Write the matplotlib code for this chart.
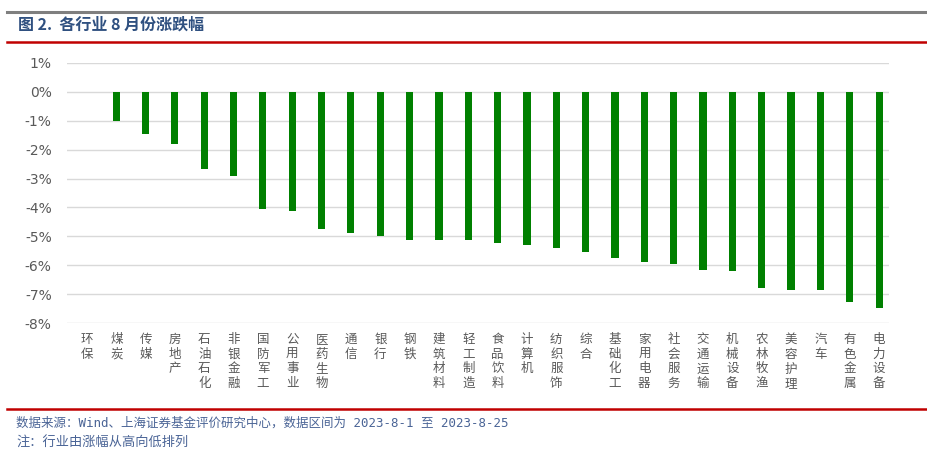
import numpy as np
import matplotlib
matplotlib.use("Agg")
import matplotlib.pyplot as plt
from matplotlib.lines import Line2D

plt.rcParams['font.family'] = ['Noto Sans CJK SC', 'DejaVu Sans']

# industries, sorted from best to worst August return
industries = ['环保', '煤炭', '传媒', '房地产', '石油石化', '非银金融', '国防军工',
              '公用事业', '医药生物', '通信', '银行', '钢铁', '建筑材料', '轻工制造',
              '食品饮料', '计算机', '纺织服饰', '综合', '基础化工', '家用电器',
              '社会服务', '交通运输', '机械设备', '农林牧渔', '美容护理', '汽车',
              '有色金属', '电力设备']
returns = [0.0, -1.00, -1.46, -1.82, -2.67, -2.90, -4.04,
           -4.11, -4.73, -4.87, -4.99, -5.12, -5.13, -5.14,
           -5.24, -5.30, -5.40, -5.55, -5.74, -5.88,
           -5.95, -6.16, -6.20, -6.78, -6.86, -6.86,
           -7.28, -7.47]
y_ticks = [1, 0, -1, -2, -3, -4, -5, -6, -7, -8]

W, H = 927, 461
fig = plt.figure(figsize=(W / 100, H / 100), dpi=100)

ax = fig.add_axes([67 / W, 1 - 323.3 / H, (889 - 67) / W, (323.3 - 62.7) / H])
x = np.arange(len(industries))
ax.bar(x, returns, width=0.24, color='#008000', zorder=3)

ax.set_ylim(-8, 1)
ax.set_xlim(-0.68, len(industries) - 0.66)
ax.set_yticks(y_ticks)
ax.set_yticklabels([f'{t}%' for t in y_ticks], fontsize=10, color='#595959',
                   family=['DejaVu Sans'])
ax.tick_params(axis='y', length=0, pad=11)
ax.grid(axis='y', color='#d9d9d9', linewidth=1, zorder=0)
for s in ax.spines.values():
    s.set_visible(False)

# vertical stacked category labels
ax.set_xticks(x)
ax.set_xticklabels(['\n'.join(n) for n in industries], fontsize=9,
                   color='#595959', linespacing=1.17, va='top')
ax.tick_params(axis='x', length=0, pad=7)

# header / footer decoration
fig.add_artist(Line2D([7 / W, 1], [1 - 12 / H] * 2, color='#7f7f7f', lw=2.2,
                      transform=fig.transFigure))
fig.add_artist(Line2D([7 / W, 1], [1 - 42 / H] * 2, color='#c00000', lw=1.8,
                      transform=fig.transFigure))
fig.add_artist(Line2D([7 / W, 1], [1 - 409 / H] * 2, color='#c00000', lw=1.8,
                      transform=fig.transFigure))

fig.text(18 / W, 1 - 25 / H, '图 2.  各行业 8 月份涨跌幅', fontsize=11.5,
         fontweight='bold', color='#2f5080', va='center', ha='left')
foot_font = ['DejaVu Sans Mono', 'Noto Sans CJK SC']
fig.text(16 / W, 1 - 423 / H,
         '数据来源：Wind、上海证券基金评价研究中心，数据区间为 2023-8-1 至 2023-8-25',
         fontsize=9, color='#4a6496', va='center', ha='left', family=foot_font)
fig.text(16 / W, 1 - 443 / H, '注：行业由涨幅从高向低排列',
         fontsize=9.5, color='#4a6496', va='center', ha='left', family=foot_font)

fig.savefig('out.png', dpi=100)
